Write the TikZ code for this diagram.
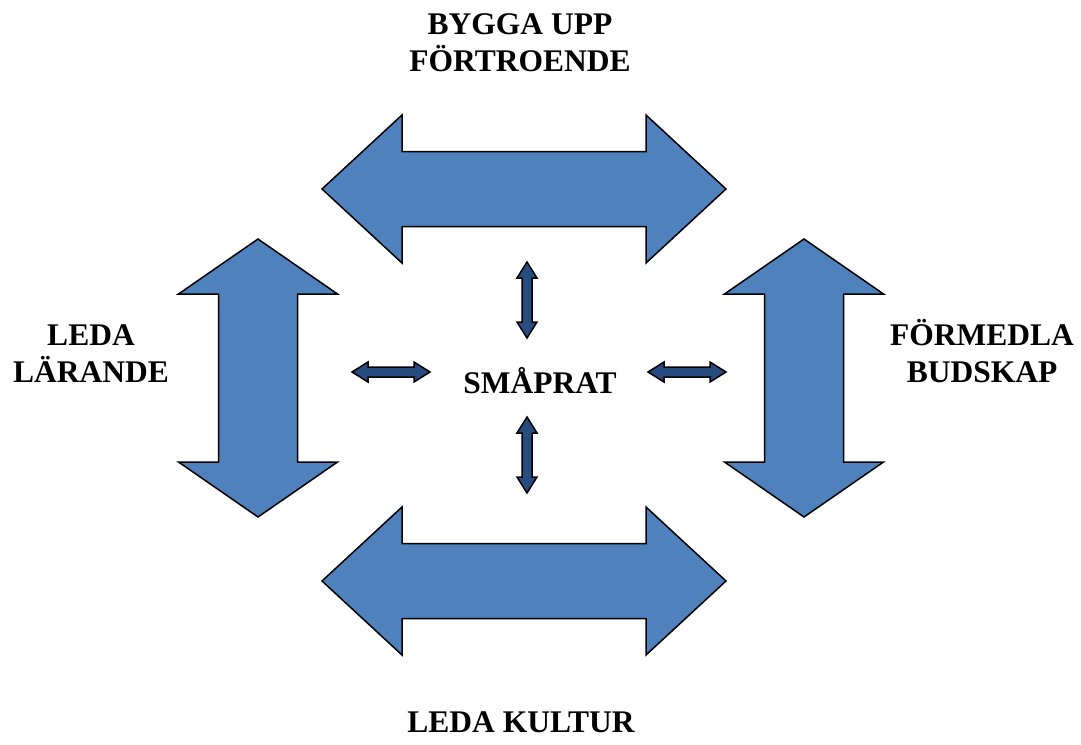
\documentclass[tikz,border=0pt]{standalone}
\usepackage{fontspec}
\setmainfont{Liberation Serif}
\usepackage{tikz}

\definecolor{bigblue}{RGB}{79,129,189}
\definecolor{smallblue}{RGB}{38,76,128}

\tikzset{
  bigarrow/.style={draw=black, line width=1.5pt, fill=bigblue},
  smallarrow/.style={draw=black, line width=1.5pt, fill=smallblue},
  pics/dblarrow/.style args={#1/#2/#3/#4}{code={
    \path [pic actions] (-#1,0) -- (-#1+#2,#3) -- (-#1+#2,#4) -- (#1-#2,#4)
      -- (#1-#2,#3) -- (#1,0) -- (#1-#2,-#3) -- (#1-#2,-#4)
      -- (-#1+#2,-#4) -- (-#1+#2,-#3) -- cycle;
  }}
}

\begin{document}
\begin{tikzpicture}[x=1pt, y=-1pt, every node/.append style={font=\fontsize{31.5}{37}\selectfont\bfseries, align=center, anchor=base}]
        \useasboundingbox (0,0) rectangle (1081,744);

        % big arrows
        \pic [bigarrow] (top) at (524,189) {dblarrow={202/80/74/37.5}};
        \pic [bigarrow] (bottom) at (524,581) {dblarrow={202/80/74/37.5}};
        \pic [bigarrow, rotate=90] (left) at (258,378) {dblarrow={139/55/79.5/39.5}};
        \pic [bigarrow, rotate=90] (right) at (804,378) {dblarrow={139/55/79.5/39.5}};

        % small arrows round the centre
        \pic [smallarrow, rotate=90] (ctop) at (527,300) {dblarrow={38/16/10/5}};
        \pic [smallarrow, rotate=90] (cbottom) at (527,455) {dblarrow={38/16/10/5}};
        \pic [smallarrow] (cleft) at (391,372) {dblarrow={39/16/10/5}};
        \pic [smallarrow] (cright) at (687,372) {dblarrow={39/16/10/5}};

        \node (smaprat) at (540,393) {SMÅPRAT};
        \node (bygga) at (520,71) {BYGGA UPP\\FÖRTROENDE};
        \node (larande) at (91,382) {LEDA\\LÄRANDE};
        \node (budskap) at (982,382) {FÖRMEDLA\\BUDSKAP};
        \node (kultur) at (521,732) {LEDA KULTUR};
    \end{tikzpicture}
\end{document}
